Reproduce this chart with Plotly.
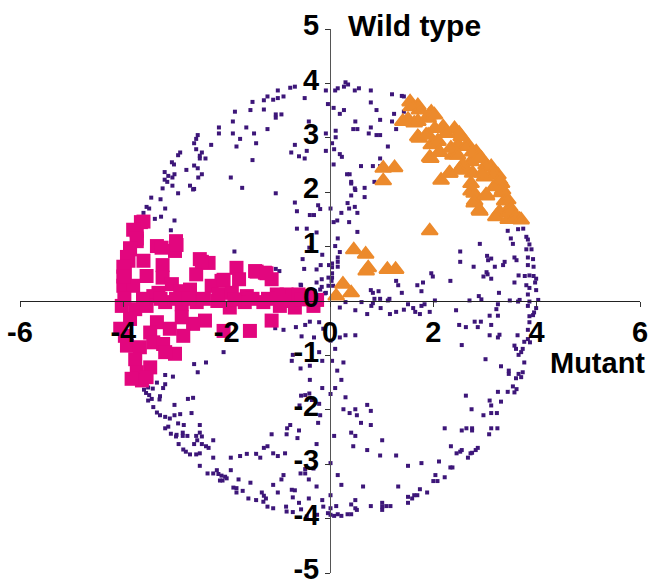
import plotly.graph_objects as go

# ---- data ----
# background genes (small purple squares), split by quadrant
purple_q1 = [(0.30,4.02),(0.35,3.98),(0.27,3.94),(0.15,3.91),(0.10,3.87),(0.56,3.91),(0.48,3.87),(0.79,3.87),(1.20,3.80),(1.39,3.77),(1.43,3.76),(0.79,3.65),(0.07,3.55),(0.27,3.51),(0.19,3.44),(0.90,3.51),(1.24,3.44),(1.43,3.48),(0.97,3.33),(0.49,3.30),(1.20,3.30),(0.79,3.19),(0.45,3.16),(0.53,3.16),(1.28,3.16),(0.11,3.13),(0.75,3.08),(0.90,3.05),(0.97,3.05),(0.11,3.01),(0.04,2.90),(1.12,2.84),(0.08,2.79),(0.19,2.70),(0.23,2.65),(0.97,2.62),(0.07,2.51),(0.60,2.48),(0.83,2.48),(0.97,2.48),(0.33,2.33),(0.38,2.33),(0.41,2.19),(0.41,2.16),(0.86,2.19),(0.67,2.08),(0.48,2.07),
             (0.49,2.04),(0.67,1.91),(0.41,1.94),(0.34,1.80),(0.37,1.70),(0.48,1.73),(0.53,1.62),(0.22,1.62),(0.14,1.48),(0.07,1.45),(0.37,1.45),(0.53,1.27),(0.01,1.70),(0.15,1.15),(0.10,1.01),(0.19,0.90),(0.15,0.80),(0.15,0.72),(0.15,0.63),(0.04,0.69),(0.04,0.62),(0.04,0.51),(0.04,0.43),(0.06,0.28),(0.03,0.37),(2.90,1.05),(2.52,0.91),(2.52,0.72),(2.78,0.63),(3.04,0.83),(3.12,0.78),(3.06,0.75),(3.19,0.63),(3.35,0.66),(3.38,0.72),(3.03,0.53),(3.05,0.49),(2.97,0.45),(3.12,0.41),(3.57,0.80),(3.61,0.75),(3.65,0.47),(3.57,0.34),(3.27,0.15),(3.44,1.29),(3.50,1.15),(3.54,1.05),(3.64,1.32),(3.74,1.33),(3.80,1.18),(3.83,1.13),(3.86,1.04),(3.80,0.95),(3.90,0.95),(3.83,0.80),(3.93,0.77),(3.83,0.66),(3.94,0.63),(3.77,0.46),(3.86,0.47),(3.94,0.46),(3.99,0.41),(3.97,0.34),(3.80,0.29),(3.86,0.24),(3.99,0.20),(3.83,0.12),(4.03,0.02),(3.67,0.02),(1.96,0.51),(1.99,0.45),(2.33,0.37),(1.28,0.37),(1.32,0.29),(1.69,0.29),(1.80,0.34),(1.77,0.18),(1.39,0.15),(0.79,0.20),(0.83,0.15),(0.94,0.18),(0.86,0.04),(0.97,0.04),(1.15,0.04),(2.88,0.09),(2.93,0.03),(1.12,0.01),(2.03,0.01),(2.70,0.01),(3.48,0.01)]
purple_q2 = [(-0.68,3.94),(-0.77,3.92),(-1.01,3.87),(-1.21,3.76),(-1.10,3.70),(-1.01,3.73),(-0.90,3.76),(-1.28,3.69),(-1.50,3.66),(-1.54,3.51),(-1.28,3.52),(-1.05,3.43),(-1.05,3.37),(-0.94,3.43),(-0.49,3.73),(-0.04,3.62),(-0.41,3.30),(-1.84,3.48),(-1.88,3.30),(-2.15,3.19),(-2.15,3.08),(-1.62,3.19),(-1.88,3.08),(-1.47,3.08),(-1.21,3.16),(-1.74,2.98),(-1.43,2.90),(-1.81,2.84),(-2.30,2.87),(-2.56,3.05),(-2.59,2.98),(-2.63,2.90),(-2.59,2.79),(-2.90,2.73),(-2.94,2.68),(-2.48,2.73),(-2.52,2.67),(-2.41,2.62),(-2.52,2.62),(-3.06,2.55),(-3.02,2.51),(-2.63,2.49),(-2.56,2.44),(-2.78,2.41),(-2.48,2.33),(-3.20,2.37),(-3.13,2.30),(-3.01,2.33),(-3.20,2.23),(-3.15,2.19),(-3.05,2.27),(-2.55,2.27),(-3.05,2.12),(-1.92,2.27),(-2.71,2.12),(-2.63,2.06),(-1.70,2.08),(-1.50,2.59),(-0.75,2.73),(-0.68,2.87),(-0.60,2.66),(-0.49,2.62),(-0.45,2.76),(-0.08,2.76),(-0.08,3.08),(-0.08,3.87),(-3.24,2.07),
             (-2.94,1.98),(-2.65,2.05),(-1.05,1.98),(-3.46,1.90),(-3.28,1.87),(-3.55,1.73),(-3.50,1.70),(-3.61,1.62),(-3.19,1.70),(-3.27,1.55),(-3.39,1.51),(-3.01,1.48),(-3.08,1.30),(-1.85,0.91),(-0.68,1.81),(-0.64,1.65),(-0.39,1.58),(-0.31,1.58),(-0.19,1.69),(-0.23,1.76),(-0.64,1.33),(-0.45,1.33),(-0.26,1.26),(-0.40,0.98),(-0.15,0.85),(-0.53,0.77),(-0.50,0.59),(-0.26,0.58),(-0.18,0.66),(-0.02,0.66),(-1.05,0.59),(-0.98,0.55),(-0.57,0.30),(-0.26,0.34),(-0.16,0.40),(-0.03,0.43),(-0.19,0.21),(-0.08,0.15),(-0.03,0.28),(-0.56,0.29),(-0.16,0.26),(-0.10,0.14)]
purple_q3 = [(-1.06,-0.50),(-0.90,-0.53),(-0.66,-0.48),(-0.48,-0.44),(-0.39,-0.38),(-0.21,-0.39),(-0.13,-0.51),(-0.31,-0.67),(-0.55,-0.65),(-0.72,-0.99),(-0.74,-1.10),(-0.57,-1.24),(-0.39,-1.19),(-0.21,-0.94),(-0.15,-1.10),(-0.39,-1.45),(-0.15,-1.60),(-0.56,-1.74),(-0.48,-1.73),(-0.40,-1.70),(-0.35,-1.82),(-0.21,-1.89),(-0.59,-1.92),(-2.06,-0.94),(-2.40,-1.13),(-2.63,-1.16),(-2.56,-1.31),(-3.19,-1.36),(-3.04,-1.39),(-3.35,-1.50),(-3.19,-1.53),(-3.23,-1.60),(-3.52,-1.59),(-3.43,-1.61),(-3.60,-1.63),(-3.56,-1.69),(-3.50,-1.73),(-3.52,-1.83),(-3.45,-1.80),(-3.42,-1.95),(-3.29,-1.75),(-3.30,-1.81),(-3.01,-1.91),(-2.75,-1.80),(-2.65,-1.78),(-3.35,-2.05),
             (-3.29,-2.10),(-3.19,-2.13),(-3.10,-2.16),(-3.01,-2.10),(-2.90,-2.08),(-2.68,-2.06),(-3.19,-2.34),(-3.13,-2.31),(-3.08,-2.44),(-2.97,-2.46),(-2.94,-2.25),(-2.83,-2.28),(-2.85,-2.42),(-2.85,-2.48),(-2.76,-2.48),(-2.98,-2.49),(-2.52,-2.28),(-2.52,-2.42),(-2.59,-2.48),(-2.48,-2.49),(-2.57,-2.56),(-2.26,-2.56),(-2.63,-2.63),(-2.93,-2.63),(-2.84,-2.73),(-2.48,-2.63),(-2.40,-2.67),(-2.35,-2.70),(-2.79,-2.77),(-2.71,-2.82),(-2.59,-2.82),(-2.52,-2.80),(-2.26,-2.88),(-2.52,-3.03),(-2.37,-3.17),(-2.26,-3.17),(-2.19,-3.11),(-2.16,-3.18),(-2.10,-3.21),(-2.03,-3.23),(-2.13,-3.30),(-2.08,-3.30),(-2.00,-3.26),(-1.92,-3.11),(-1.92,-2.88),(-1.74,-2.85),(-1.61,-2.81),(-1.43,-2.81),(-1.35,-2.88),(-1.28,-2.70),(-1.21,-2.67),(-1.10,-2.80),(-1.01,-2.85),(-0.87,-2.80),(-1.13,-2.45),(-0.84,-2.45),(-0.83,-2.34),(-0.77,-2.28),(-0.60,-2.38),(-0.63,-2.52),(-0.26,-2.63),(-0.23,-2.24),(-1.77,-3.28),(-1.54,-3.34),(-1.10,-3.38),(-1.01,-3.52),(-0.94,-3.28),(-0.90,-3.20),(-1.87,-3.43),(-1.81,-3.44),(-1.81,-3.52),(-1.69,-3.49),(-1.58,-3.63),(-1.43,-3.66),(-1.32,-3.52),(-1.28,-3.58),(-1.24,-3.63),(-1.29,-3.69),(-1.21,-3.78),(-1.10,-3.81),(-0.85,-3.78),(-0.84,-3.87),(-0.72,-3.88),(-0.74,-3.47),(-0.68,-3.48),(-0.72,-3.61),(-0.60,-3.71),(-0.56,-3.83),(-0.41,-3.63),(-0.41,-3.28),(-0.57,-3.17),(-0.48,-3.09),(-0.48,-3.17),(-0.26,-3.41),(-0.15,-3.66),(-0.13,-3.78),(-0.45,-3.96),(-0.04,-3.90),(-0.25,-3.93),(-0.32,-3.08),(-0.19,-2.10)]
purple_q4 = [(0.19,-0.12),(0.30,-0.02),(0.49,-0.17),(0.61,-0.02),(0.72,-0.24),(0.80,-0.09),(0.83,-0.04),(0.98,-0.13),(1.16,-0.24),(1.28,-0.20),(1.43,-0.16),(1.51,-0.06),(1.61,-0.13),(1.65,-0.20),(1.74,-0.24),(1.77,-0.09),(1.83,-0.06),(1.93,-0.20),(2.44,-0.17),(3.25,-0.06),(3.22,-0.15),(3.09,-0.27),(3.25,-0.27),(3.12,-0.44),(3.64,-0.01),(3.86,-0.01),(3.83,-0.09),(3.93,-0.26),(3.86,-0.28),(3.95,-0.21),(3.99,-0.13),(3.86,-0.39),(3.83,-0.53),(3.63,-0.63),(3.87,-0.76),(3.83,-0.70),(3.76,-0.75),(3.57,-0.82),(3.60,-0.88),(3.73,-0.88),(3.70,-0.94),(3.65,-0.99),(3.76,-1.13),(3.28,-0.62),(3.25,-0.67),(3.09,-0.63),(2.86,-0.48),(2.92,-0.38),(2.80,-0.38),(2.63,-0.48),(2.50,-0.44),(2.55,-0.81),(3.01,-1.07),(3.31,-1.20),(3.46,-1.28),(3.46,-1.34),(3.65,-1.34),(3.73,-1.31),(3.70,-1.40),(3.60,-1.42),(3.54,-1.57),(3.61,-1.62),(3.57,-1.68),(3.44,-1.67),(3.25,-1.67),(3.31,-1.85),(3.09,-1.83),(3.12,-1.92),(2.63,-1.74),(2.74,-1.99),(0.30,-0.63),(0.49,-0.63),(0.19,-0.67),(0.10,-0.88),(0.04,-1.10),(0.26,-1.13),(0.14,-1.28),(0.22,-1.45),(0.10,-1.60),(0.30,-1.77),(0.26,-1.99),(0.49,-1.99),(0.72,-1.91),(0.79,-2.02),(0.01,-1.71),(0.01,-0.73),
             (0.38,-2.06),(0.52,-2.10),(0.60,-2.24),(0.79,-2.28),(0.08,-2.48),(0.41,-2.42),(0.49,-2.48),(0.45,-2.67),(1.01,-2.56),(0.72,-2.74),(0.97,-2.84),(1.28,-2.84),(0.01,-2.98),(0.15,-3.20),(0.22,-3.38),(0.64,-3.41),(0.01,-3.57),(0.12,-3.77),(0.41,-3.74),(0.49,-3.66),(0.49,-3.81),(0.52,-3.84),(0.79,-3.77),(1.01,-3.71),(1.01,-3.78),(1.01,-3.84),(1.09,-3.77),(1.17,-3.77),(0.01,-3.81),(0.01,-3.93),(0.08,-3.95),(0.15,-3.92),(0.22,-3.95),(0.34,-3.92),(0.41,-3.92),(1.32,-3.41),(1.51,-3.60),(1.51,-3.71),(1.59,-3.63),(1.63,-3.57),(1.69,-3.57),(1.74,-3.46),(1.88,-3.52),(2.00,-3.31),(2.08,-3.31),(2.04,-3.20),(2.22,-3.24),(1.51,-3.03),(1.77,-2.98),(2.11,-2.95),(2.33,-3.06),(2.37,-3.06),(2.34,-2.67),(2.45,-2.80),(2.52,-2.77),(2.55,-2.74),(2.67,-2.88),(2.72,-2.80),(2.75,-2.79),(2.82,-2.74),(2.86,-2.70),(2.22,-2.34),(2.55,-2.38),(2.64,-2.34),(2.75,-2.34),(2.75,-2.38),(3.12,-2.34),(3.24,-2.34),(3.08,-2.45),(2.97,-2.10),(3.12,-2.06),(3.23,-2.06)]

# down-regulated cluster (magenta squares)
magenta_pts = [(-3.66,1.45),(-3.74,1.29),(-3.74,1.10),(-3.87,0.95),(-3.90,0.74),(-3.61,0.74),(-3.97,0.52),(-3.55,0.46),(-4.00,0.28),(-3.81,0.28),(-3.35,1.01),(-3.26,0.98),(-2.98,1.10),(-3.00,0.92),(-3.24,0.66),(-3.24,0.43),(-3.06,0.31),(-3.32,0.15),(-2.90,0.18),(-2.71,0.21),(-2.59,0.49),(-2.52,0.77),(-2.35,0.70),(-2.29,0.28),(-2.10,0.37),(-2.16,0.12),(-1.81,0.61),(-1.76,0.40),(-1.90,0.15),(-1.61,0.09),(-1.45,0.55),(-1.26,0.52),(-1.13,0.40),(-1.03,0.12),(-0.84,0.12),(-0.61,0.12),(-0.39,0.09),(-3.42,0.09),
               (-4.03,-0.09),(-3.77,-0.15),(-3.55,-0.09),(-3.19,-0.02),(-2.87,-0.06),(-2.58,-0.02),(-1.94,-0.12),(-1.65,-0.02),(-1.29,-0.02),(-0.97,-0.09),(-0.68,-0.12),(-0.32,-0.09),(-1.13,-0.36),(-1.55,-0.55),(-2.06,-0.55),(-2.42,-0.36),(-2.65,-0.42),(-2.87,-0.30),(-2.84,-0.64),(-3.10,-0.51),(-3.35,-0.39),(-3.48,-0.58),(-3.87,-0.33),(-3.97,-0.64),(-3.93,-0.82),(-3.68,-0.85),(-3.42,-0.76),(-3.23,-0.79),(-3.00,-0.97),(-3.19,-0.94),(-3.77,-1.07),(-3.48,-1.22),(-3.74,-1.31),(-3.64,-1.46),(-3.84,-1.43),(-3.55,-1.40),(-4.06,-0.51),
               (-3.61,1.46),(-3.81,1.31),(-3.74,1.15),(-3.87,0.97),(-3.93,0.81),(-4.00,0.63),(-4.00,0.45),(-2.97,1.03),(-2.48,0.72),(-2.06,0.39),(-1.00,0.11),(-1.42,0.54),(-1.23,0.51),
               (-3.98,0.04),(-3.62,0.04),(-3.28,0.04),(-2.98,0.04),(-2.73,0.04),(-2.44,0.04),(-2.18,0.00),(-1.85,0.03),(-1.50,0.04),(-1.20,0.04),(-0.90,0.00),(-0.55,0.03),(-0.25,0.02)]

# up-regulated cluster (orange triangles)
orange_pts = [(1.55,3.66),(1.70,3.59),(1.96,3.47),(1.51,3.34),(1.70,3.30),(1.90,3.36),(2.19,3.20),(2.41,3.17),(2.03,3.17),(1.70,3.02),(1.90,3.05),(2.09,2.94),(1.96,2.87),(2.54,3.02),(2.48,2.87),(2.67,2.87),(2.12,2.73),(1.93,2.64),(2.38,2.68),(2.83,2.74),(2.73,2.56),(2.93,2.62),(3.12,2.47),(2.61,2.41),(2.32,2.35),(2.15,2.22),(2.73,2.16),(3.25,2.32),(3.32,2.16),(2.99,2.28),(1.03,2.44),(1.25,2.45),(1.03,2.21),
              (2.73,2.02),(3.03,1.93),(2.80,1.84),(2.90,1.65),(3.32,1.99),(3.28,1.62),(3.48,1.72),(3.57,1.53),(3.67,1.50),(3.45,1.50),(3.38,1.84),(1.93,1.29),(0.46,0.94),(0.69,0.86),(0.74,0.61),(0.70,0.55),(1.11,0.58),(1.27,0.58),(0.25,0.31),(0.41,0.15),(0.12,0.09),
              (1.57,3.57),(1.73,3.51),(1.50,3.30),(1.63,3.27),(1.92,3.42),(2.02,3.42),(2.18,3.17),(2.50,3.08),(1.73,2.99),(1.86,3.05),(2.08,2.93),(1.95,2.62),(2.12,2.74),(2.34,2.81),(2.63,2.84),(2.76,2.74),(2.89,2.65),(2.47,2.68),(2.57,2.50),(3.02,2.50),(3.15,2.35),(3.28,2.22),(2.31,2.35),(2.79,1.98),(3.02,1.95),(2.79,1.80),(2.89,1.67),(3.28,1.64),(3.34,2.04),(3.44,1.86),(3.50,1.67),(3.60,1.55),(3.70,1.49),(3.21,1.55),(2.76,2.35),(2.95,2.35),(3.18,2.10),(2.50,2.41),(2.25,3.08),(1.41,3.30)]

x_ticks = [-6, -4, -2, 0, 2, 4, 6]
y_ticks = [-5, -4, -3, -2, -1, 0, 1, 2, 3, 4, 5]
x_title = "Mutant"
y_title = "Wild type"

purple_all = purple_q1 + purple_q2 + purple_q3 + purple_q4

fig = go.Figure()
fig.add_trace(go.Scatter(
    x=[p[0] for p in purple_all], y=[p[1] for p in purple_all], mode="markers",
    marker=dict(symbol="square", size=4, color="#3d1679", line=dict(width=0)),
    hoverinfo="skip", cliponaxis=False))
fig.add_trace(go.Scatter(
    x=[p[0] for p in magenta_pts], y=[p[1] for p in magenta_pts], mode="markers",
    marker=dict(symbol="square", size=14, color="#e2067e", line=dict(width=0)),
    hoverinfo="skip", cliponaxis=False))
fig.add_trace(go.Scatter(
    x=[p[0] for p in orange_pts], y=[p[1] for p in orange_pts], mode="markers",
    marker=dict(symbol="triangle-up", size=14, color="#ec8a2c",
                line=dict(width=2, color="#ec8a2c")),
    hoverinfo="skip", cliponaxis=False))

font_family = "Liberation Sans, Arial, sans-serif"
tick_font = dict(family=font_family, size=29, color="black", weight="bold")

fig.update_layout(
    width=652, height=582,
    margin=dict(l=20, r=12, t=29, b=9, autoexpand=False),
    paper_bgcolor="white", plot_bgcolor="white",
    showlegend=False,
    xaxis=dict(range=[-6, 6], tickvals=x_ticks, ticktext=[str(v) for v in x_ticks],
               ticks="outside", ticklen=5, tickcolor="#333", showline=True, linecolor="#222",
               linewidth=1, showgrid=False, zeroline=False, anchor="free", position=0.5,
               tickfont=tick_font, fixedrange=True, automargin=False,
               ticklabeloverflow="allow"),
    yaxis=dict(range=[-5, 5], tickvals=y_ticks, ticktext=[str(v) for v in y_ticks],
               ticks="outside", ticklen=5, tickcolor="#333", showline=True, linecolor="#555",
               linewidth=1, showgrid=False, zeroline=False, anchor="free", position=0.5,
               tickfont=tick_font, fixedrange=True, automargin=False,
               ticklabeloverflow="allow", ticklabelshift=-4),
    annotations=[
        dict(text=y_title, x=0.30, y=1.0064, xref="x", yref="paper", xanchor="left", yanchor="middle",
             showarrow=False, font=dict(family=font_family, size=30, color="black", weight="bold")),
        dict(text=x_title, x=4.22, y=-1.14, xref="x", yref="y", xanchor="left", yanchor="middle",
             showarrow=False, font=dict(family=font_family, size=29, color="black", weight="bold")),
    ],
)

# remove the default 8px page margin so the 652x582 figure fills the window
fig.write_html("out.html", config={"displayModeBar": False},
               post_script="document.body.style.margin='0';")
